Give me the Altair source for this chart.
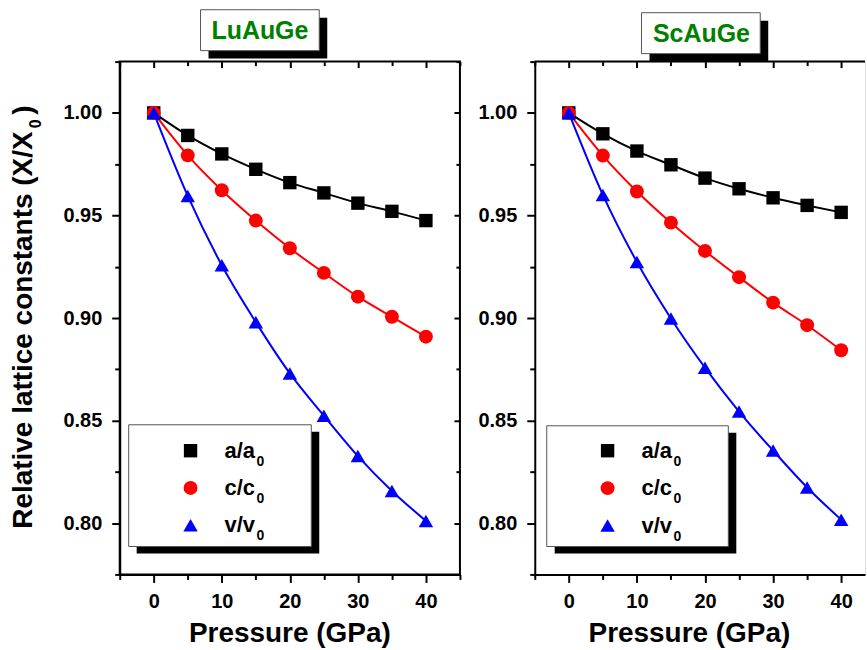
import altair as alt
import pandas as pd

# ---------------- data ----------------
pressure = [0, 5, 10, 15, 20, 25, 30, 35, 40]

lu_a = [1.000, 0.989, 0.980, 0.9725, 0.966, 0.961, 0.956, 0.952, 0.9475]
lu_c = [1.000, 0.9793, 0.9623, 0.9475, 0.934, 0.922, 0.9104, 0.9006, 0.8909]
lu_v = [1.000, 0.9595, 0.9257, 0.898, 0.873, 0.8524, 0.8327, 0.8157, 0.8011]

sc_a = [1.000, 0.9898, 0.9814, 0.9747, 0.9682, 0.963, 0.9586, 0.9549, 0.9515]
sc_c = [1.000, 0.9792, 0.9617, 0.9465, 0.9327, 0.9199, 0.9075, 0.8965, 0.8843]
sc_v = [1.000, 0.960, 0.9273, 0.8998, 0.8758, 0.8544, 0.8354, 0.8174, 0.8017]

series_names = ["a/a0", "c/c0", "v/v0"]
series_labels = ["a/a", "c/c", "v/v"]
compounds = ["LuAuGe", "ScAuGe"]

x_major = [0, 10, 20, 30, 40]
x_minor = [-5, 5, 15, 25, 35, 45]
y_major = [0.80, 0.85, 0.90, 0.95, 1.00]
y_minor = [0.775, 0.825, 0.875, 0.925, 0.975, 1.025]

# ---------------- styles ----------------
FONT = "Liberation Sans"
colors = ["#000000", "#ff0000", "#0000ff"]
shapes = ["square", "circle", "triangle-up"]
sizes = [180, 210, 290]
H = 514
dummy = pd.DataFrame({"d": [0]})


def axis(orient, values, tick, offset=0, labels=False, domain=False, fmt=None, pad=9):
    kw = dict(orient=orient, values=values, tickSize=tick, offset=offset,
              labels=labels, domain=domain, grid=False, title=None,
              ticks=True, tickColor="black", tickWidth=2)
    if labels:
        kw.update(labelFont=FONT, labelFontSize=20, labelFontWeight="bold",
                  labelColor="black", labelPadding=pad, labelFlush=False,
                  labelOverlap=False)
    if fmt:
        kw["format"] = fmt
    if domain:
        kw.update(domainColor="black", domainWidth=2)
    return alt.Axis(**kw)


def make_panel(name, a, c, v, W, xmax, right_axes, box, ttl, leg, xtitle_x, ytitle):
    df = pd.DataFrame({
        "P": pressure * 3,
        "val": a + c + v,
        "series": [s for s in series_names for _ in pressure],
    })
    xs = alt.Scale(domain=[-5, xmax], nice=False, zero=False)
    ys = alt.Scale(domain=[0.775, 1.025], nice=False, zero=False)
    col = alt.Color("series:N", scale=alt.Scale(domain=series_names, range=colors), legend=None)
    shp = alt.Shape("series:N", scale=alt.Scale(domain=series_names, range=shapes), legend=None)
    siz = alt.Size("series:N", scale=alt.Scale(domain=series_names, range=sizes), legend=None)
    xmin_vals = [m for m in x_minor if m <= xmax]

    lines = alt.Chart(df).mark_line(interpolate="monotone", strokeWidth=2).encode(
        x=alt.X("P:Q", scale=xs, axis=axis("bottom", x_major, 8, labels=True, domain=True, pad=9)),
        y=alt.Y("val:Q", scale=ys, axis=axis("left", y_major, 8, labels=True, domain=True, fmt=".2f", pad=10)),
        color=col,
    )
    pts = alt.Chart(df).mark_point(filled=True, opacity=1, strokeWidth=0).encode(
        x=alt.X("P:Q", scale=xs, axis=axis("top", x_major, 6, offset=-6)),
        y=alt.Y("val:Q", scale=ys, axis=axis("right", y_major, 6, offset=-6) if right_axes else None),
        color=col, shape=shp, size=siz,
    )
    minor1 = alt.Chart(df).mark_point(opacity=0).encode(
        x=alt.X("P:Q", scale=xs, axis=axis("bottom", xmin_vals, 5)),
        y=alt.Y("val:Q", scale=ys, axis=axis("left", y_minor, 5)),
    )
    minor2 = alt.Chart(df).mark_point(opacity=0).encode(
        x=alt.X("P:Q", scale=xs, axis=axis("top", xmin_vals, 4, offset=-4)),
        y=alt.Y("val:Q", scale=ys, axis=axis("right", y_minor, 4, offset=-4) if right_axes else None),
    )

    layers = [lines, pts, minor1, minor2]

    if not right_axes:
        layers.append(alt.Chart(dummy).mark_rule(color="black", strokeWidth=2).encode(
            x=alt.value(0), x2=alt.value(W), y=alt.value(0)))

    # title box
    bx, by, bw, bh = box
    layers.append(alt.Chart(dummy).mark_rect(color="black").encode(
        x=alt.value(bx + 8), x2=alt.value(bx + bw + 8), y=alt.value(by + 8), y2=alt.value(by + bh + 8)))
    layers.append(alt.Chart(dummy).mark_rect(fill="white", stroke="#555555", strokeWidth=1).encode(
        x=alt.value(bx), x2=alt.value(bx + bw), y=alt.value(by), y2=alt.value(by + bh)))
    layers.append(alt.Chart(dummy).mark_text(
        font=FONT, fontSize=25, fontWeight="bold", color="#008000", align="center", baseline="middle"
    ).encode(x=alt.value(ttl[0]), y=alt.value(ttl[1]), text=alt.value(name)))

    # legend
    lx, ly, lw, lh, sx, tx, r0, dr = leg
    layers.append(alt.Chart(dummy).mark_rect(color="black").encode(
        x=alt.value(lx + 8), x2=alt.value(lx + lw + 8), y=alt.value(ly + 7), y2=alt.value(ly + lh + 7)))
    layers.append(alt.Chart(dummy).mark_rect(fill="white", stroke="#555555", strokeWidth=1).encode(
        x=alt.value(lx), x2=alt.value(lx + lw), y=alt.value(ly), y2=alt.value(ly + lh)))
    leg_df = pd.DataFrame({"series": series_names, "label": series_labels, "idx": [0, 1, 2]})
    lbase = alt.Chart(leg_df).transform_calculate(
        py=f"{r0} + datum.idx * {dr}", py2=f"{r0 + 11} + datum.idx * {dr}")
    layers.append(lbase.mark_point(filled=True, opacity=1, strokeWidth=0).encode(
        x=alt.value(sx), y=alt.Y("py:Q", scale=None, axis=None), color=col, shape=shp, size=siz))
    layers.append(lbase.mark_text(font=FONT, fontSize=22, fontWeight="bold", color="black",
                                  align="left", baseline="middle").encode(
        x=alt.value(tx), y=alt.Y("py:Q", scale=None, axis=None), text="label:N"))
    layers.append(lbase.mark_text(font=FONT, fontSize=14, fontWeight="bold", color="black",
                                  align="left", baseline="middle").encode(
        x=alt.value(tx + 32), y=alt.Y("py2:Q", scale=None, axis=None), text=alt.value("0")))

    # x title
    layers.append(alt.Chart(dummy).mark_text(
        font=FONT, fontSize=28, fontWeight="bold", color="black", align="center", baseline="alphabetic"
    ).encode(x=alt.value(xtitle_x), y=alt.value(H + 68), text=alt.value("Pressure (GPa)")))

    # y title (left panel only)
    if ytitle:
        tkw = dict(font=FONT, fontWeight="bold", color="black", align="right",
                   baseline="alphabetic", angle=270)
        layers.append(alt.Chart(dummy).mark_text(fontSize=28, **tkw).encode(
            x=alt.value(-88), y=alt.value(70), text=alt.value("Relative lattice constants (X/X")))
        layers.append(alt.Chart(dummy).mark_text(fontSize=16, **tkw).encode(
            x=alt.value(-79), y=alt.value(58), text=alt.value("0")))
        layers.append(alt.Chart(dummy).mark_text(fontSize=28, **tkw).encode(
            x=alt.value(-88), y=alt.value(44), text=alt.value(")")))

    chart = alt.layer(*layers).resolve_axis(x="independent", y="independent").properties(
        width=W, height=H)
    if right_axes:
        chart = chart.properties(view=alt.ViewBackground(stroke="black", strokeWidth=2))
    return chart


left = make_panel(
    compounds[0], lu_a, lu_c, lu_v, W=341, xmax=45, right_axes=True,
    box=(81, -52, 119, 41), ttl=(140.5, -31),
    leg=(9, 364, 183, 122, 71, 105, 390, 37.3),
    xtitle_x=170.5, ytitle=True,
)
right = make_panel(
    compounds[1], sc_a, sc_c, sc_v, W=331, xmax=43.5, right_axes=False,
    box=(107, -49, 119, 41), ttl=(167, -28),
    leg=(12, 365, 182, 121, 73, 107, 390, 37.5),
    xtitle_x=155, ytitle=False,
)

chart = alt.hconcat(left, right, spacing=15).properties(
    padding={"left": 9, "top": 7, "right": 0, "bottom": 0}
).configure_view(stroke="transparent").configure(background="white")

chart.save("out.html", embed_options={"renderer": "svg", "actions": False})
